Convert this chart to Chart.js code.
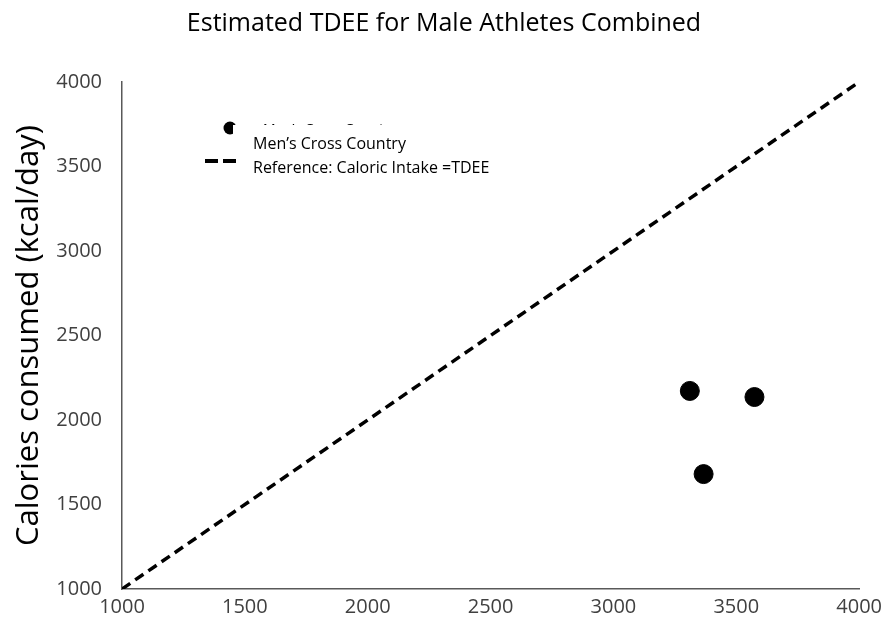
<!DOCTYPE html>
<html>
<head>
<meta charset="utf-8">
<title>Estimated TDEE for Male Athletes Combined</title>
<script src="https://cdn.jsdelivr.net/npm/chart.js@4/dist/chart.umd.min.js"></script>
<style>
  html, body { margin: 0; padding: 0; background: #ffffff; }
  #wrap { width: 888px; height: 635px; }
</style>
</head>
<body>
<div id="wrap"><canvas id="chart" width="888" height="635"></canvas></div>
<script>
// Estimated TDEE (x) vs. calories consumed (y), kcal/day
const athleteTdee = [3311, 3574, 3367];
const athleteIntake = [2172, 2136, 1680];
// Identity line: caloric intake equals TDEE
const referenceTdee = [1000, 4000];
const referenceIntake = [1000, 4000];
const axisTicks = [1000, 1500, 2000, 2500, 3000, 3500, 4000];

const seriesNames = ["Men\u2019s Cross Country", "Reference: Caloric Intake =TDEE"];
const chartTitle = "Estimated TDEE for Male Athletes Combined";
const yAxisTitle = "Calories consumed (kcal/day)";

const FONT = "'Open Sans', 'Liberation Sans', sans-serif";

const toPoints = (xs, ys) => xs.map((x, i) => ({ x: x, y: ys[i] }));

// Title centred on the whole canvas
const canvasTitle = {
  id: 'canvasTitle',
  afterDraw(chart) {
    const ctx = chart.ctx;
    ctx.save();
    ctx.fillStyle = '#000000';
    ctx.font = '25px ' + FONT;
    ctx.textAlign = 'center';
    ctx.textBaseline = 'alphabetic';
    ctx.fillText(chartTitle, chart.width / 2, 31);
    ctx.restore();
  }
};

// Legend drawn inside the plot area, upper left; the label box sits
// over the first legend row, so only the tops of its marker and text show
const innerLegend = {
  id: 'innerLegend',
  afterDraw(chart) {
    const ctx = chart.ctx;
    const sets = chart.data.datasets;
    ctx.save();
    // underlying first row: marker and label
    ctx.fillStyle = '#000000';
    ctx.beginPath();
    ctx.arc(230, 128, 6.5, 0, Math.PI * 2);
    ctx.fill();
    ctx.font = '14px ' + FONT;
    ctx.textAlign = 'left';
    ctx.textBaseline = 'alphabetic';
    ctx.fillText(sets[0].label, 263, 133.5);
    // white label box on top
    ctx.fillStyle = '#ffffff';
    ctx.fillRect(233, 125, 300, 57);
    // dashed sample for the reference line
    ctx.strokeStyle = '#000000';
    ctx.lineWidth = 4;
    ctx.setLineDash([13, 5]);
    ctx.beginPath();
    ctx.moveTo(205, 161);
    ctx.lineTo(236, 161);
    ctx.stroke();
    ctx.setLineDash([]);
    ctx.fillStyle = '#000000';
    ctx.font = '16px ' + FONT;
    ctx.textBaseline = 'middle';
    ctx.fillText(sets[0].label, 253, 144);
    ctx.fillText(sets[1].label, 253, 168);
    ctx.restore();
  }
};

new Chart(document.getElementById('chart'), {
  type: 'scatter',
  data: {
    datasets: [
      {
        label: seriesNames[0],
        data: toPoints(athleteTdee, athleteIntake),
        backgroundColor: '#000000',
        borderColor: '#000000',
        pointRadius: 9.5,
        pointHoverRadius: 9.5,
        showLine: false,
        order: 1
      },
      {
        label: seriesNames[1],
        data: toPoints(referenceTdee, referenceIntake),
        showLine: true,
        borderColor: '#000000',
        borderWidth: 3.5,
        borderDash: [10, 6],
        pointRadius: 0,
        fill: false,
        order: 2
      }
    ]
  },
  options: {
    responsive: false,
    animation: false,
    devicePixelRatio: 1,
    layout: { padding: { left: 0, right: 26, top: 82, bottom: 0 } },
    plugins: {
      legend: { display: false },
      tooltip: { enabled: false },
      title: { display: false }
    },
    scales: {
      x: {
        type: 'linear',
        min: 1000,
        max: 4000,
        afterBuildTicks(scale) { scale.ticks = axisTicks.map(v => ({ value: v })); },
        afterFit(scale) { scale.height = 46; },
        grid: { display: false, drawTicks: false },
        border: { display: true, color: '#595959', width: 1.5 },
        ticks: {
          color: '#404040',
          font: { family: FONT, size: 20 },
          padding: 6,
          maxRotation: 0,
          callback: (v) => String(v)
        }
      },
      y: {
        type: 'linear',
        min: 1000,
        max: 4000,
        afterBuildTicks(scale) { scale.ticks = axisTicks.map(v => ({ value: v })); },
        afterFit(scale) { scale.width = 122; },
        grid: { display: false, drawTicks: false },
        border: { display: true, color: '#595959', width: 1.5 },
        ticks: {
          color: '#404040',
          font: { family: FONT, size: 20 },
          padding: 20,
          callback: (v) => String(v)
        },
        title: {
          display: true,
          text: yAxisTitle,
          color: '#000000',
          font: { family: FONT, size: 31, weight: 'normal' },
          padding: { top: 11, bottom: 0 }
        }
      }
    }
  },
  plugins: [canvasTitle, innerLegend]
});
</script>
</body>
</html>
